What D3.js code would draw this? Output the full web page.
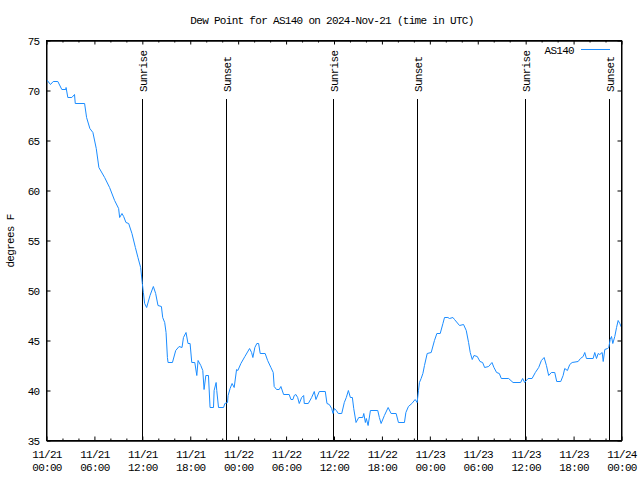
<!DOCTYPE html>
<html>
<head>
<meta charset="utf-8">
<script src="https://cdn.jsdelivr.net/npm/d3@7"></script>
<style>
  body { margin: 0; background: #fff; }
  text { font-family: "Liberation Mono", "DejaVu Sans Mono", monospace; }
</style>
</head>
<body>
<div id="chart"></div>
<script>
const width = 640;
const height = 480;
const margin = {left: 46.5, right: 18.5, top: 40.5, bottom: 39.5};

// hours after 2024-11-21 00:00 UTC
const timesH = [0.00,0.50,0.84,1.42,1.92,2.42,2.45,2.67,3.17,3.51,3.60,4.77,5.02,5.43,5.81,6.23,6.56,7.28,7.90,8.53,
  9.03,9.16,9.45,9.66,9.95,10.29,10.70,11.13,11.45,11.79,12.00,12.13,12.29,12.54,12.96,13.38,13.67,13.96,14.39,14.55,
  14.80,14.97,15.14,15.22,15.77,16.18,16.60,16.97,17.15,17.47,17.72,17.98,18.19,18.57,18.82,18.98,19.32,19.57,19.73,19.95,
  20.28,20.48,20.91,20.99,21.24,21.32,21.54,22.17,22.33,22.67,22.74,22.99,23.24,23.50,23.80,23.96,24.34,24.84,25.43,25.68,
  25.84,26.09,26.34,26.56,26.76,27.38,27.69,28.10,28.39,28.51,28.81,29.14,29.35,29.69,30.39,30.61,30.86,31.02,31.23,31.45,
  31.65,31.95,32.20,32.28,32.78,33.20,33.53,33.74,34.16,34.91,35.12,35.41,35.71,35.88,36.04,36.29,36.54,36.97,37.29,37.54,
  37.80,38.05,38.30,38.47,38.76,39.10,39.60,39.73,39.93,40.05,40.27,40.56,41.48,41.68,41.90,42.31,42.78,43.15,43.78,44.07,
  44.82,45.00,45.32,45.75,46.16,46.41,46.58,46.70,46.91,47.13,47.33,47.67,48.17,48.58,48.88,49.30,49.64,49.84,50.26,50.46,
  50.89,51.09,51.72,52.22,52.56,52.85,53.06,53.31,53.53,53.94,54.28,54.61,54.86,55.36,55.78,56.03,56.36,56.70,56.95,57.87,
  58.42,59.37,59.62,59.87,60.30,60.80,61.21,61.63,61.97,62.31,62.60,62.88,63.22,63.64,63.89,64.39,64.69,64.89,65.23,65.52,
  65.82,66.57,66.86,67.20,67.40,67.61,68.45,68.65,68.87,69.08,69.28,69.58,69.71,69.91,70.25,70.41,70.58,70.75,70.91,71.16,
  71.38,71.58,71.79,72.00];
const dewPointF = [71.1,70.6,70.9,70.9,70.1,70.1,70.3,69.3,69.3,69.6,68.7,68.7,67.3,66.2,65.8,64.2,62.3,61.3,60.3,59.0,
  58.2,57.3,57.7,57.4,56.8,56.7,55.7,54.3,53.3,52.3,50.7,49.8,48.7,48.3,49.5,50.4,49.7,48.5,48.4,47.3,
  46.8,45.8,43.3,42.8,42.8,44.0,44.4,44.3,45.3,45.8,44.7,44.7,42.8,42.8,41.5,43.0,42.5,42.0,40.1,41.5,
  41.5,38.3,38.3,40.0,40.8,40.0,38.3,38.3,38.7,38.8,39.5,40.2,40.7,40.3,42.1,42.0,42.7,43.4,44.2,43.8,
  43.3,44.3,44.7,44.7,43.7,43.7,43.0,42.3,41.8,40.4,40.1,40.1,40.4,39.6,39.6,39.1,39.1,39.5,39.6,39.3,
  38.7,39.3,39.5,38.7,38.7,39.3,39.9,39.1,39.9,39.9,38.7,38.6,38.2,37.7,38.2,38.0,37.7,37.7,38.8,39.3,
  40.0,39.3,39.3,38.2,36.8,37.3,37.3,37.7,36.8,37.2,36.5,38.0,38.0,37.3,36.7,37.5,38.3,37.7,37.7,36.8,
  36.8,37.8,38.4,38.7,39.1,38.8,40.0,40.8,41.2,41.7,42.5,43.7,43.8,45.0,45.7,45.7,46.7,47.3,47.3,47.2,
  47.3,47.1,46.5,46.6,46.0,44.8,43.8,43.1,43.5,43.4,42.9,42.8,42.3,42.4,42.8,42.3,41.8,41.7,41.2,41.2,
  40.8,40.8,41.2,40.8,41.2,41.2,41.8,42.3,43.0,43.3,42.5,41.5,41.8,41.8,40.9,40.9,41.5,42.2,42.0,42.6,
  42.8,42.9,43.2,43.4,43.8,43.2,43.2,43.8,43.2,43.7,43.6,43.8,42.9,44.1,44.2,44.3,45.1,45.4,44.7,45.4,
  46.3,47.0,46.7,46.3];

const sunLabels = ["Sunrise", "Sunset", "Sunrise", "Sunset", "Sunrise", "Sunset"];
const sunHours = [12.02, 22.54, 35.94, 46.46, 59.98, 70.50];

const majorTickHours = d3.range(0, 73, 6);
const minorTickHours = d3.range(0, 73, 2).filter(h => h % 6 !== 0);
const yTicks = [35, 40, 45, 50, 55, 60, 65, 70, 75];

const lineColor = "#1a8cff";
const t0 = Date.UTC(2024, 10, 21);
const toDate = h => new Date(t0 + h * 3600000);

const svg = d3.select("#chart").append("svg")
  .attr("width", width)
  .attr("height", height)
  .style("background", "#fff");

const x = d3.scaleUtc()
  .domain([toDate(0), toDate(72)])
  .range([margin.left, width - margin.right]);

const y = d3.scaleLinear()
  .domain([35, 75])
  .range([height - margin.bottom, margin.top]);

// title
svg.append("text")
  .attr("x", 332).attr("y", 24)
  .attr("text-anchor", "middle")
  .attr("font-size", 11)
  .attr("letter-spacing", "-0.7px")
  .text("Dew Point for AS140 on 2024-Nov-21 (time in UTC)");

// y label
svg.append("text")
  .attr("transform", "translate(14,241) rotate(-90)")
  .attr("text-anchor", "middle")
  .attr("font-size", 11)
  .attr("letter-spacing", "-0.7px")
  .text("degrees F");

const fmtDay = d3.utcFormat("%m/%d");
const fmtTime = d3.utcFormat("%H:%M");

// bottom axis, major ticks with two-line labels
const gx = svg.append("g")
  .attr("transform", `translate(0,${y(35)})`)
  .call(d3.axisBottom(x).tickValues(majorTickHours.map(toDate)).tickSize(-4).tickSizeOuter(0));
gx.selectAll(".tick text").each(function(d) {
  const t = d3.select(this).text(null).attr("dy", null).attr("y", 0);
  t.append("tspan").attr("x", 0).attr("y", 17.5).text(fmtDay(d));
  t.append("tspan").attr("x", 0).attr("y", 30.5).text(fmtTime(d));
});
svg.append("g")
  .attr("transform", `translate(0,${y(35)})`)
  .call(d3.axisBottom(x).tickValues(minorTickHours.map(toDate)).tickSize(-2).tickSizeOuter(0).tickFormat(""));

// top axis mirror ticks
svg.append("g")
  .attr("transform", `translate(0,${y(75)})`)
  .call(d3.axisTop(x).tickValues(majorTickHours.map(toDate)).tickSize(-4).tickSizeOuter(0).tickFormat(""));
svg.append("g")
  .attr("transform", `translate(0,${y(75)})`)
  .call(d3.axisTop(x).tickValues(minorTickHours.map(toDate)).tickSize(-2).tickSizeOuter(0).tickFormat(""));

// left and right axes
svg.append("g")
  .attr("transform", `translate(${x(toDate(0))},0)`)
  .call(d3.axisLeft(y).tickValues(yTicks).tickSize(-4).tickSizeOuter(0).tickPadding(7));
svg.append("g")
  .attr("transform", `translate(${x(toDate(72))},0)`)
  .call(d3.axisRight(y).tickValues(yTicks).tickSize(-4).tickSizeOuter(0).tickFormat(""));

svg.selectAll(".tick text")
  .attr("font-family", "Liberation Mono, DejaVu Sans Mono, monospace")
  .attr("font-size", 11)
  .attr("letter-spacing", "-0.7px")
  .attr("fill", "#000");
svg.selectAll(".tick line, .domain").attr("stroke", "#000");

// sunrise / sunset markers
const sunX = d => Math.floor(x(toDate(d))) + 0.5;
const sun = svg.append("g");
sun.selectAll("line")
  .data(sunHours)
  .enter().append("line")
  .attr("x1", sunX)
  .attr("x2", sunX)
  .attr("y1", 99)
  .attr("y2", y(35))
  .attr("stroke", "#000");
sun.selectAll("text")
  .data(sunHours)
  .enter().append("text")
  .attr("transform", d => `translate(${sunX(d) + 4},92) rotate(-90)`)
  .attr("font-size", 11)
  .attr("letter-spacing", "-0.7px")
  .text((d, i) => sunLabels[i]);

// data line
const line = d3.line()
  .x((d, i) => x(toDate(timesH[i])))
  .y(d => y(d));
svg.append("path")
  .datum(dewPointF)
  .attr("fill", "none")
  .attr("stroke", lineColor)
  .attr("stroke-width", 1)
  .attr("d", line);

// frame
svg.append("rect")
  .attr("x", x(toDate(0))).attr("y", y(75))
  .attr("width", x(toDate(72)) - x(toDate(0)))
  .attr("height", y(35) - y(75))
  .attr("fill", "none")
  .attr("stroke", "#000");

// legend
svg.append("text")
  .attr("x", 574).attr("y", 54)
  .attr("text-anchor", "end")
  .attr("font-size", 11)
  .attr("letter-spacing", "-0.7px")
  .text("AS140");
svg.append("line")
  .attr("x1", 581).attr("x2", 610)
  .attr("y1", 49.5).attr("y2", 49.5)
  .attr("stroke", lineColor)
  .attr("stroke-width", 1);
</script>
</body>
</html>
